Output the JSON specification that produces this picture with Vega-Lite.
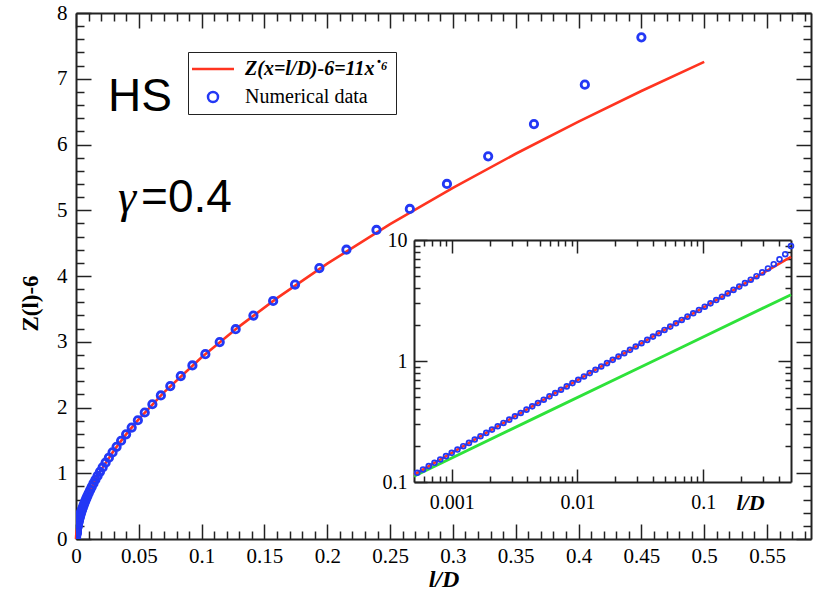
{
  "$schema": "https://vega.github.io/schema/vega-lite/v6.json",
  "width": 735,
  "height": 526,
  "autosize": {"type": "none"},
  "padding": {"left": 76, "top": 13, "right": 7, "bottom": 59},
  "background": "white",
  "config": {
    "view": {"stroke": null},
    "axis": {"grid": false, "labelFont": "Liberation Serif", "titleFont": "Liberation Serif", "domainColor": "#222", "domainWidth": 2, "tickColor": "#222", "tickWidth": 1.5, "labelColor": "black", "titleColor": "black"}
  },
  "datasets": {
    "fit": [
      {"x": 0, "y": 0}, {"x": 0.00001, "y": 0.011}, {"x": 0.0001, "y": 0.0438}, {"x": 0.0005, "y": 0.115},
      {"x": 0.001, "y": 0.1743}, {"x": 0.002, "y": 0.2642}, {"x": 0.004, "y": 0.4005}, {"x": 0.007, "y": 0.5603},
      {"x": 0.01, "y": 0.694}, {"x": 0.015, "y": 0.8851}, {"x": 0.02, "y": 1.052}, {"x": 0.03, "y": 1.3418},
      {"x": 0.04, "y": 1.5945}, {"x": 0.05, "y": 1.823}, {"x": 0.07, "y": 2.2309}, {"x": 0.1, "y": 2.7631},
      {"x": 0.13, "y": 3.2342}, {"x": 0.16, "y": 3.6633}, {"x": 0.2, "y": 4.188}, {"x": 0.25, "y": 4.788},
      {"x": 0.3, "y": 5.3415}, {"x": 0.35, "y": 5.8594}, {"x": 0.4, "y": 6.3479}, {"x": 0.45, "y": 6.8134},
      {"x": 0.5, "y": 7.2573}
    ],
    "green": [
      {"x": 0.0005, "y": 0.1118}, {"x": 0.005, "y": 0.3536}, {"x": 0.05, "y": 1.118}, {"x": 0.5, "y": 3.5355}
    ],
    "num": [
      {"x": 0.5, "y": 8.9}, {"x": 0.45, "y": 7.63}, {"x": 0.405, "y": 6.91}, {"x": 0.3645, "y": 6.31},
      {"x": 0.32805, "y": 5.82}, {"x": 0.295245, "y": 5.4}, {"x": 0.26572, "y": 5.02}, {"x": 0.239148, "y": 4.7},
      {"x": 0.215234, "y": 4.4}, {"x": 0.19371, "y": 4.12}, {"x": 0.174339, "y": 3.87}, {"x": 0.156905, "y": 3.62},
      {"x": 0.141215, "y": 3.3987}, {"x": 0.127093, "y": 3.1905}, {"x": 0.114384, "y": 2.995}, {"x": 0.102946, "y": 2.8115},
      {"x": 0.092651, "y": 2.6393}, {"x": 0.083386, "y": 2.4776}, {"x": 0.075047, "y": 2.3258}, {"x": 0.067543, "y": 2.1833},
      {"x": 0.060788, "y": 2.0496}, {"x": 0.05471, "y": 1.924}, {"x": 0.049239, "y": 1.8061}, {"x": 0.044315, "y": 1.6955},
      {"x": 0.039883, "y": 1.5916}, {"x": 0.035895, "y": 1.4941}, {"x": 0.032305, "y": 1.4026}, {"x": 0.029075, "y": 1.3167},
      {"x": 0.026167, "y": 1.236}, {"x": 0.023551, "y": 1.1603}, {"x": 0.021196, "y": 1.0892}, {"x": 0.019076, "y": 1.0225},
      {"x": 0.017168, "y": 0.9599}, {"x": 0.015452, "y": 0.9011}, {"x": 0.013906, "y": 0.8459}, {"x": 0.012516, "y": 0.7941},
      {"x": 0.011264, "y": 0.7454}, {"x": 0.010138, "y": 0.6998}, {"x": 0.009124, "y": 0.6569}, {"x": 0.008212, "y": 0.6167},
      {"x": 0.00739, "y": 0.5789}, {"x": 0.006651, "y": 0.5434}, {"x": 0.005986, "y": 0.5101}, {"x": 0.005388, "y": 0.4789},
      {"x": 0.004849, "y": 0.4495}, {"x": 0.004364, "y": 0.422}, {"x": 0.003928, "y": 0.3961}, {"x": 0.003535, "y": 0.3719},
      {"x": 0.003181, "y": 0.3491}, {"x": 0.002863, "y": 0.3277}, {"x": 0.002577, "y": 0.3076}, {"x": 0.002319, "y": 0.2888},
      {"x": 0.002087, "y": 0.2711}, {"x": 0.001879, "y": 0.2545}, {"x": 0.001691, "y": 0.2389}, {"x": 0.001522, "y": 0.2243},
      {"x": 0.001369, "y": 0.2105}, {"x": 0.001233, "y": 0.1976}, {"x": 0.001109, "y": 0.1855}, {"x": 0.000998, "y": 0.1742},
      {"x": 0.000899, "y": 0.1635}, {"x": 0.000809, "y": 0.1535}, {"x": 0.000728, "y": 0.1441}, {"x": 0.000655, "y": 0.1353},
      {"x": 0.00059, "y": 0.127}, {"x": 0.000531, "y": 0.1192}, {"x": 0.000478, "y": 0.1119}, {"x": 0.00043, "y": 0.105},
      {"x": 0.000387, "y": 0.0986}, {"x": 0.000348, "y": 0.0926}, {"x": 0.000313, "y": 0.0869}, {"x": 0.000282, "y": 0.0816},
      {"x": 0.000254, "y": 0.0766}, {"x": 0.000185, "y": 0.0634}, {"x": 0.000109, "y": 0.0462}, {"x": 0.000038, "y": 0.0246}
    ]
  },
  "layer": [
    {
      "data": {"name": "fit"},
      "mark": {"type": "line", "color": "#ff3420", "strokeWidth": 2.6},
      "encoding": {
        "x": {"field": "x", "type": "quantitative", "scale": {"domain": [0, 0.585], "nice": false, "zero": false},
          "axis": {"orient": "bottom", "values": [0,0.01,0.02,0.03,0.04,0.05,0.06,0.07,0.08,0.09,0.1,0.11,0.12,0.13,0.14,0.15,0.16,0.17,0.18,0.19,0.2,0.21,0.22,0.23,0.24,0.25,0.26,0.27,0.28,0.29,0.3,0.31,0.32,0.33,0.34,0.35,0.36,0.37,0.38,0.39,0.4,0.41,0.42,0.43,0.44,0.45,0.46,0.47,0.48,0.49,0.5,0.51,0.52,0.53,0.54,0.55,0.56,0.57,0.58],
            "labelExpr": "abs(datum.value*20-round(datum.value*20))<0.001 ? format(datum.value,'~g') : ''",
            "tickSize": {"condition": {"test": "abs(datum.value*20-round(datum.value*20))<0.001", "value": -15}, "value": -8},
            "labelPadding": 21, "labelFontSize": 21, "labelFlush": false, "labelOverlap": false,
            "title": "l/D", "titleFontSize": 24, "titleFontWeight": "bold", "titleFontStyle": "italic", "titleY": 40, "titleBaseline": "middle"}},
        "y": {"field": "y", "type": "quantitative", "scale": {"domain": [0, 8], "nice": false},
          "axis": {"orient": "left", "values": [0,0.2,0.4,0.6,0.8,1,1.2,1.4,1.6,1.8,2,2.2,2.4,2.6,2.8,3,3.2,3.4,3.6,3.8,4,4.2,4.4,4.6,4.8,5,5.2,5.4,5.6,5.8,6,6.2,6.4,6.6,6.8,7,7.2,7.4,7.6,7.8,8],
            "labelExpr": "abs(datum.value-round(datum.value))<0.001 ? format(datum.value,'~g') : ''",
            "tickSize": {"condition": {"test": "abs(datum.value-round(datum.value))<0.001", "value": -15}, "value": -8},
            "labelPadding": 24, "labelFontSize": 21, "labelFlush": false, "labelOverlap": false,
            "title": "Z(l)-6", "titleFontSize": 23, "titleFontWeight": "bold", "titleX": -46, "titleY": 290, "titleAngle": -90, "titleBaseline": "middle", "titleAlign": "center"}}
      }
    },
    {
      "data": {"name": "num"},
      "mark": {"type": "point", "filled": false, "strokeWidth": 2.8, "size": 55, "clip": true, "opacity": 1},
      "encoding": {
        "x": {"field": "x", "type": "quantitative", "scale": {"domain": [0, 0.585], "nice": false, "zero": false},
          "axis": {"orient": "top", "values": [0,0.01,0.02,0.03,0.04,0.05,0.06,0.07,0.08,0.09,0.1,0.11,0.12,0.13,0.14,0.15,0.16,0.17,0.18,0.19,0.2,0.21,0.22,0.23,0.24,0.25,0.26,0.27,0.28,0.29,0.3,0.31,0.32,0.33,0.34,0.35,0.36,0.37,0.38,0.39,0.4,0.41,0.42,0.43,0.44,0.45,0.46,0.47,0.48,0.49,0.5,0.51,0.52,0.53,0.54,0.55,0.56,0.57,0.58],
            "labels": false, "title": null,
            "tickSize": {"condition": {"test": "abs(datum.value*20-round(datum.value*20))<0.001", "value": -15}, "value": -8}}},
        "y": {"field": "y", "type": "quantitative", "scale": {"domain": [0, 8], "nice": false},
          "axis": {"orient": "right", "values": [0,0.2,0.4,0.6,0.8,1,1.2,1.4,1.6,1.8,2,2.2,2.4,2.6,2.8,3,3.2,3.4,3.6,3.8,4,4.2,4.4,4.6,4.8,5,5.2,5.4,5.6,5.8,6,6.2,6.4,6.6,6.8,7,7.2,7.4,7.6,7.8,8],
            "labels": false, "title": null,
            "tickSize": {"condition": {"test": "abs(datum.value-round(datum.value))<0.001", "value": -15}, "value": -8}}},
        "color": {"datum": "Numerical data", "type": "nominal",
          "scale": {"domain": ["Z(x=l/D)-6=11x˙⁶", "Numerical data"], "range": ["#ff3420", "#2338f5"]},
          "legend": {"orient": "none", "legendX": 112, "legendY": 39, "title": null, "strokeColor": "#222", "fillColor": "white",
            "padding": 7, "rowPadding": 8, "symbolOffset": 8, "symbolStrokeWidth": 2.5,
            "labelFont": "Liberation Serif", "labelFontSize": 20, "labelOffset": 22, "labelLimit": 400, "labelColor": "black",
            "labelFontStyle": {"expr": "datum.value === 'Numerical data' ? 'normal' : 'italic'"},
            "labelFontWeight": {"expr": "datum.value === 'Numerical data' ? 'normal' : 'bold'"}}},
        "shape": {"datum": "Numerical data", "type": "nominal",
          "scale": {"domain": ["Z(x=l/D)-6=11x˙⁶", "Numerical data"], "range": ["M-4.2,0H4.2", "circle"]},
          "legend": {"orient": "none", "legendX": 112, "legendY": 39, "title": null, "strokeColor": "#222", "fillColor": "white",
            "padding": 7, "rowPadding": 8, "symbolOffset": 8, "symbolStrokeWidth": 2.5,
            "labelFont": "Liberation Serif", "labelFontSize": 20, "labelOffset": 22, "labelLimit": 400, "labelColor": "black",
            "labelFontStyle": {"expr": "datum.value === 'Numerical data' ? 'normal' : 'italic'"},
            "labelFontWeight": {"expr": "datum.value === 'Numerical data' ? 'normal' : 'bold'"}}}
      }
    },
    {
      "data": {"values": [{"t": "HS"}]},
      "mark": {"type": "text", "font": "Liberation Sans", "fontSize": 46, "align": "left", "baseline": "alphabetic", "color": "black"},
      "encoding": {
        "x": {"datum": 0.0255, "type": "quantitative", "scale": {"domain": [0, 0.585], "nice": false, "zero": false}, "axis": null},
        "y": {"datum": 6.51, "type": "quantitative", "scale": {"domain": [0, 8], "nice": false}, "axis": null},
        "text": {"field": "t"}
      }
    },
    {
      "data": {"values": [{"t": "γ"}]},
      "mark": {"type": "text", "font": "Liberation Serif", "fontSize": 46, "fontStyle": "italic", "align": "left", "baseline": "alphabetic", "color": "black"},
      "encoding": {
        "x": {"datum": 0.0334, "type": "quantitative", "scale": {"domain": [0, 0.585], "nice": false, "zero": false}, "axis": null},
        "y": {"datum": 4.974, "type": "quantitative", "scale": {"domain": [0, 8], "nice": false}, "axis": null},
        "text": {"field": "t"}
      }
    },
    {
      "data": {"values": [{"t": "=0.4"}]},
      "mark": {"type": "text", "font": "Liberation Sans", "fontSize": 46, "align": "left", "baseline": "alphabetic", "color": "black"},
      "encoding": {
        "x": {"datum": 0.0518, "type": "quantitative", "scale": {"domain": [0, 0.585], "nice": false, "zero": false}, "axis": null},
        "y": {"datum": 4.974, "type": "quantitative", "scale": {"domain": [0, 8], "nice": false}, "axis": null},
        "text": {"field": "t"}
      }
    },
    {
      "data": {"name": "green"},
      "mark": {"type": "line", "color": "#2ee23a", "strokeWidth": 2.8},
      "encoding": {
        "x": {"field": "x", "type": "quantitative", "scale": {"type": "log", "domain": [0.0005, 0.5], "range": [338, 715], "nice": false},
          "axis": {"orient": "bottom", "offset": -57,
            "values": [0.0006,0.0007,0.0008,0.0009,0.001,0.002,0.003,0.004,0.005,0.006,0.007,0.008,0.009,0.01,0.02,0.03,0.04,0.05,0.06,0.07,0.08,0.09,0.1,0.2,0.3,0.4],
            "labelExpr": "abs(log(datum.value)/LN10-round(log(datum.value)/LN10))<0.01 ? format(datum.value,'~g') : ''",
            "tickSize": {"condition": {"test": "abs(log(datum.value)/LN10-round(log(datum.value)/LN10))<0.01", "value": -13}, "value": -6},
            "labelPadding": 23, "labelFontSize": 20, "labelFlush": false, "labelOverlap": false,
            "title": "l/D", "titleX": 674, "titleY": 20, "titleBaseline": "middle", "titleAlign": "center", "titleFontSize": 22, "titleFontWeight": "bold", "titleFontStyle": "italic"}},
        "y": {"field": "y", "type": "quantitative", "scale": {"type": "log", "domain": [0.1, 10], "range": [469, 227], "nice": false},
          "axis": {"orient": "left", "offset": -338,
            "values": [0.1,0.2,0.3,0.4,0.5,0.6,0.7,0.8,0.9,1,2,3,4,5,6,7,8,9,10],
            "labelExpr": "abs(log(datum.value)/LN10-round(log(datum.value)/LN10))<0.01 ? format(datum.value,'~g') : ''",
            "tickSize": {"condition": {"test": "abs(log(datum.value)/LN10-round(log(datum.value)/LN10))<0.01", "value": -13}, "value": -6},
            "labelPadding": 20, "labelFontSize": 20, "labelFlush": false, "labelOverlap": false, "title": null}}
      }
    },
    {
      "data": {"name": "fit"},
      "transform": [{"filter": "datum.x >= 0.0005"}],
      "mark": {"type": "line", "color": "#ff3420", "strokeWidth": 2.6},
      "encoding": {
        "x": {"field": "x", "type": "quantitative", "scale": {"type": "log", "domain": [0.0005, 0.5], "range": [338, 715], "nice": false},
          "axis": {"orient": "top", "offset": -227, "labels": false, "title": null,
            "values": [0.0006,0.0007,0.0008,0.0009,0.001,0.002,0.003,0.004,0.005,0.006,0.007,0.008,0.009,0.01,0.02,0.03,0.04,0.05,0.06,0.07,0.08,0.09,0.1,0.2,0.3,0.4],
            "tickSize": {"condition": {"test": "abs(log(datum.value)/LN10-round(log(datum.value)/LN10))<0.01", "value": -13}, "value": -6}}},
        "y": {"field": "y", "type": "quantitative", "scale": {"type": "log", "domain": [0.1, 10], "range": [469, 227], "nice": false},
          "axis": {"orient": "right", "offset": -20, "labels": false, "title": null,
            "values": [0.2,0.3,0.4,0.5,0.6,0.7,0.8,0.9,1,2,3,4,5,6,7,8,9],
            "tickSize": {"condition": {"test": "abs(log(datum.value)/LN10-round(log(datum.value)/LN10))<0.01", "value": -13}, "value": -6}}}
      }
    },
    {
      "data": {"name": "num"},
      "transform": [{"filter": "datum.x >= 0.0005"}],
      "mark": {"type": "point", "filled": false, "strokeWidth": 1.7, "size": 24, "color": "#2338f5", "opacity": 1},
      "encoding": {
        "x": {"field": "x", "type": "quantitative", "scale": {"type": "log", "domain": [0.0005, 0.5], "range": [338, 715], "nice": false}, "axis": null},
        "y": {"field": "y", "type": "quantitative", "scale": {"type": "log", "domain": [0.1, 10], "range": [469, 227], "nice": false}, "axis": null}
      }
    }
  ],
  "resolve": {"scale": {"x": "independent", "y": "independent"}, "axis": {"x": "independent", "y": "independent"}}
}
